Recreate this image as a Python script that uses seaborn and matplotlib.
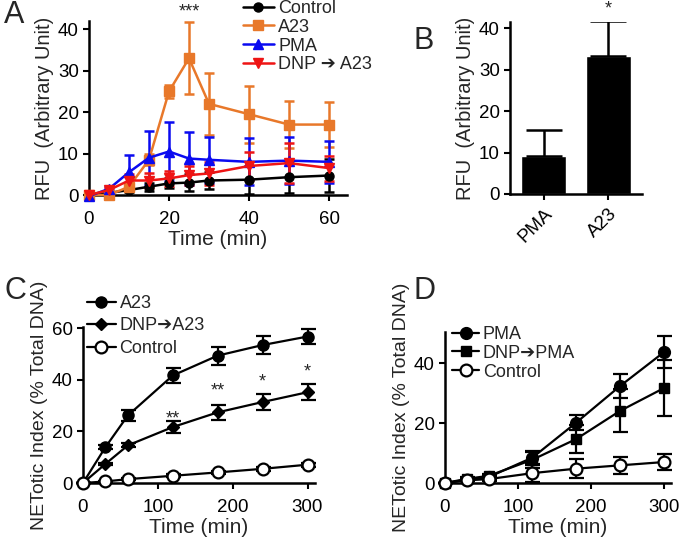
import numpy as np
import pandas as pd
import seaborn as sns
import matplotlib
matplotlib.use("Agg")
import matplotlib.pyplot as plt

# ---------------- data ----------------
# panel A: RFU over time
time_a = [0, 5, 10, 15, 20, 25, 30, 40, 50, 60]
ctrl_a = [0, 0.5, 1.2, 2.0, 2.8, 3.0, 3.5, 3.7, 4.3, 4.7]
ctrl_a_err = [0, 0.3, 0.5, 1.0, 1.2, 2.0, 2.0, 3.4, 3.8, 4.0]
a23_a = [0, 0, 2.0, 8.5, 25.0, 33.0, 22.0, 19.5, 17.0, 17.0]
a23_a_err = [0, 0.3, 0.8, 1.3, 1.5, 8.7, 7.4, 6.9, 5.7, 5.5]
pma_a = [-0.3, 1.5, 5.5, 9.0, 10.5, 8.8, 8.5, 8.0, 8.3, 8.0]
pma_a_err = [0, 0.4, 4.2, 6.5, 7.2, 6.5, 5.5, 5.7, 5.7, 5.0]
dnp_a = [0, 1.2, 3.5, 3.5, 4.0, 4.8, 5.2, 7.0, 7.7, 6.5]
dnp_a_err = [0, 0.4, 1.5, 1.8, 1.8, 2.3, 2.7, 3.4, 4.8, 3.0]

# panel B: peak RFU
groups_b = ["PMA", "A23"]
vals_b = [9.2, 33.2]
err_b = [6.3, 8.5]

# panel C: NETotic index, A23 series
time_cd = [0, 30, 60, 120, 180, 240, 300]
a23_c = [0, 13.9, 26.2, 41.7, 49.4, 53.5, 56.8]
a23_c_err = [0, 0.8, 2.3, 2.9, 3.5, 3.4, 3.0]
dnp_c = [0, 7.4, 14.6, 21.7, 27.4, 31.4, 35.2]
dnp_c_err = [0, 0.5, 0.8, 2.3, 2.9, 3.1, 3.2]
ctrl_c = [0, 0.6, 1.5, 2.8, 4.1, 5.5, 7.1]
ctrl_c_err = [0, 0.2, 0.3, 0.5, 0.6, 0.7, 0.8]
stars_c_x = [120, 180, 240, 300]
stars_c_y = [24.9, 35.5, 39.0, 43.2]
stars_c = ["**", "**", "*", "*"]

# panel D: NETotic index, PMA series
pma_d = [0, 1.1, 2.0, 8.5, 20.2, 32.4, 43.7]
pma_d_err = [0, 0.5, 0.8, 2.0, 2.5, 4.0, 5.3]
dnp_d = [0, 1.4, 2.4, 7.8, 14.7, 24.1, 31.7]
dnp_d_err = [0, 0.5, 0.5, 2.8, 4.7, 7.2, 9.3]
ctrl_d = [0, 0.9, 1.3, 3.3, 4.8, 5.9, 7.0]
ctrl_d_err = [0, 0.3, 0.5, 2.8, 3.2, 2.9, 2.6]

sns.set_theme(style="ticks")
plt.rcParams['font.family'] = ['Liberation Sans', 'DejaVu Sans']
plt.rcParams['axes.linewidth'] = 1.8
plt.rcParams['xtick.major.width'] = 1.5
plt.rcParams['ytick.major.width'] = 1.5
plt.rcParams['xtick.major.size'] = 4.3
plt.rcParams['ytick.major.size'] = 4.3
plt.rcParams['xtick.major.pad'] = 7
plt.rcParams['ytick.major.pad'] = 3
plt.rcParams['xtick.labelsize'] = 13.5
plt.rcParams['ytick.labelsize'] = 13.5
plt.rcParams['axes.labelsize'] = 15
plt.rcParams['axes.edgecolor'] = 'black'
plt.rcParams['xtick.color'] = 'black'
plt.rcParams['ytick.color'] = 'black'

ORANGE = "#E8782A"
BLUE = "#0A0AF0"
RED = "#EE1414"

fig = plt.figure(figsize=(6.8, 5.42), dpi=100)
W, H = 680, 542


def add_axes(l, t, r, b):
    return fig.add_axes([l / W, 1 - b / H, (r - l) / W, (b - t) / H])


def series(ax, x, y, err, color, marker, label, ms=6.5, lw=1.8, cap=3.6, face=None):
    ax.errorbar(x, y, yerr=err, fmt='none', ecolor=color, elinewidth=lw,
                capsize=cap, capthick=lw, clip_on=False, zorder=3)
    sns.lineplot(x=x, y=y, ax=ax, color=color, marker=marker, markersize=ms,
                 linewidth=lw, markeredgecolor=color,
                 markerfacecolor=face if face else color,
                 markeredgewidth=1.6 if face else 1, label=label,
                 clip_on=False, zorder=4)


def style(ax):
    sns.despine(ax=ax)
    ax.spines['left'].set_zorder(1)


# ---------------- A ----------------
ax = add_axes(89, 21, 347, 195)
series(ax, time_a, ctrl_a, ctrl_a_err, 'black', 'o', 'Control')
series(ax, time_a, a23_a, a23_a_err, ORANGE, 's', 'A23')
series(ax, time_a, pma_a, pma_a_err, BLUE, '^', 'PMA')
series(ax, time_a, dnp_a, dnp_a_err, RED, 'v', 'DNP ➔ A23')
ax.set_xlim(0, 64.5)
ax.set_ylim(0, 42)
ax.set_xticks([0, 20, 40, 60])
ax.set_yticks([0, 10, 20, 30, 40])
ax.set_xlabel("Time (min)", labelpad=2)
ax.set_ylabel("RFU  (Arbitrary Unit)", labelpad=3, fontsize=14.5)
ax.text(25, 44.2, "***", ha='center', va='center', fontsize=13, clip_on=False)
ax.legend(loc='upper left', bbox_to_anchor=(243 / W, 1.0), bbox_transform=fig.transFigure,
          frameon=False, fontsize=13, borderpad=0, borderaxespad=0, handlelength=1.7,
          handletextpad=0.25, labelspacing=0.1)
style(ax)

# ---------------- B ----------------
ax = add_axes(510, 22, 642, 194)
df_b = pd.DataFrame({"group": groups_b, "value": vals_b})
sns.barplot(data=df_b, x="group", y="value", color='black', width=0.7, ax=ax,
            errorbar=None, saturation=1)
ax.errorbar(range(len(groups_b)), vals_b, yerr=[[0, 0], err_b], fmt='none', ecolor='black',
            elinewidth=1.8, capsize=13, capthick=1.8, zorder=3)
ax.set_xlim(-0.52, 1.52)
ax.set_ylim(0, 41.5)
ax.set_yticks([0, 10, 20, 30, 40])
ax.set_xlabel("")
ax.set_ylabel("RFU  (Arbitrary Unit)", labelpad=3, fontsize=14.5)
ax.tick_params(axis='x', pad=4)
plt.setp(ax.get_xticklabels(), rotation=45, ha='right', rotation_mode='anchor')
ax.text(1, 44.7, "*", ha='center', va='center', fontsize=13, clip_on=False)
style(ax)

# ---------------- C ----------------
ax = add_axes(83, 327, 315, 483)
series(ax, time_cd, a23_c, a23_c_err, 'black', 'o', 'A23', ms=8, lw=1.6, cap=5.4)
series(ax, time_cd, dnp_c, dnp_c_err, 'black', 'D', 'DNP➔A23', ms=6, lw=1.6, cap=5.4)
series(ax, time_cd, ctrl_c, ctrl_c_err, 'black', 'o', 'Control', ms=8.5, lw=1.6, cap=5.4,
       face='white')
for sx, sy, st in zip(stars_c_x, stars_c_y, stars_c):
    ax.text(sx, sy, st, ha='center', va='center', fontsize=13)
ax.set_xlim(0, 310)
ax.set_ylim(0, 60.5)
ax.set_xticks([0, 100, 200, 300])
ax.set_yticks([0, 20, 40, 60])
ax.set_xlabel("Time (min)", labelpad=2)
ax.set_ylabel("NETotic Index (% Total DNA)", labelpad=3, fontsize=14)
ax.legend(loc='upper left', bbox_to_anchor=(87 / W, 1 - 295 / H), bbox_transform=fig.transFigure,
          frameon=False, fontsize=13, borderpad=0, borderaxespad=0, handlelength=1.6,
          handletextpad=0.2, labelspacing=0.3)
style(ax)

# ---------------- D ----------------
ax = add_axes(445, 332, 671, 483)
series(ax, time_cd, pma_d, pma_d_err, 'black', 'o', 'PMA', ms=8.5, lw=1.6, cap=5.4)
series(ax, time_cd, dnp_d, dnp_d_err, 'black', 's', 'DNP➔PMA', ms=7.5, lw=1.6, cap=5.4)
series(ax, time_cd, ctrl_d, ctrl_d_err, 'black', 'o', 'Control', ms=8.5, lw=1.6, cap=5.4,
       face='white')
ax.set_xlim(0, 310)
ax.set_ylim(0, 50.5)
ax.set_xticks([0, 100, 200, 300])
ax.set_yticks([0, 20, 40])
ax.set_xlabel("Time (min)", labelpad=2)
ax.set_ylabel("NETotic Index (% Total DNA)", labelpad=3, fontsize=14)
ax.legend(loc='upper left', bbox_to_anchor=(452 / W, 1 - 326 / H), bbox_transform=fig.transFigure,
          frameon=False, fontsize=13, borderpad=0, borderaxespad=0, handlelength=1.5,
          handletextpad=0.2, labelspacing=0.1)
style(ax)

# panel letters
for letter, px, py in [("A", 4, 0), ("B", 414, 26), ("C", 4, 276), ("D", 414, 276)]:
    fig.text(px / W, 1 - py / H, letter, fontsize=22, ha='left', va='top')

fig.savefig("out.png", dpi=100)
